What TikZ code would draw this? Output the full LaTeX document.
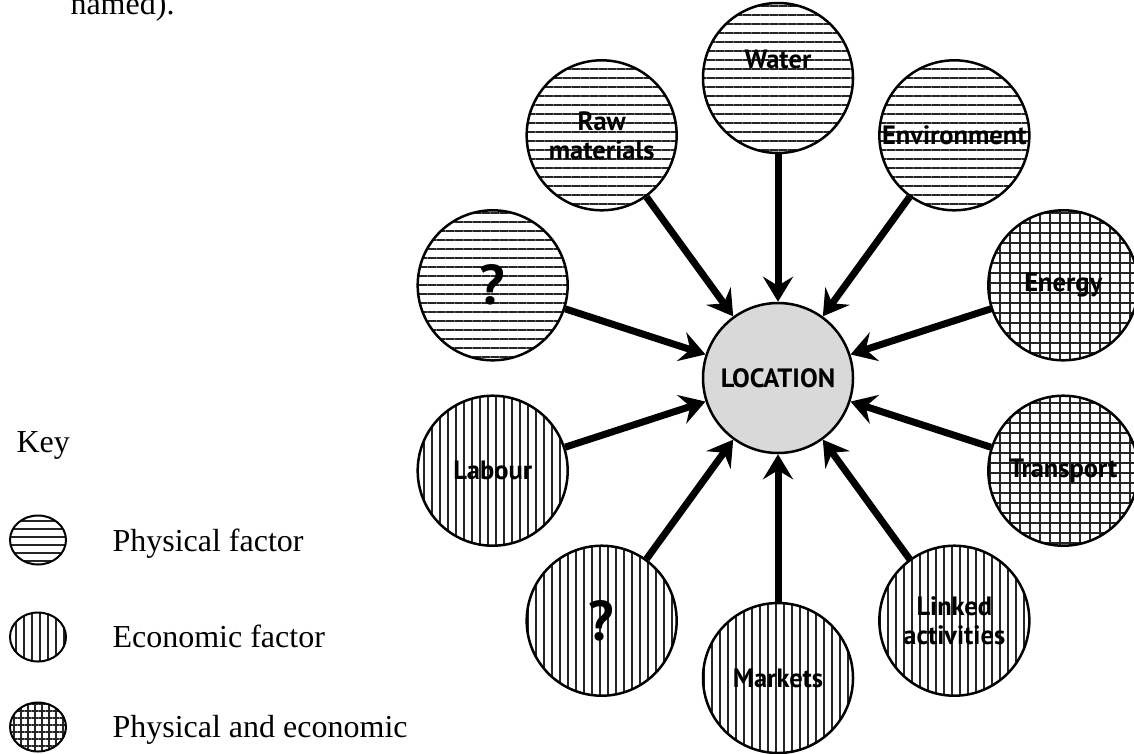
\documentclass[tikz,border=0pt]{standalone}
\usepackage{fontspec}
\setmainfont{Liberation Serif}
\newfontfamily\labelfont{PT Sans}
\usepackage{tikz}
\usetikzlibrary{positioning,arrows.meta,patterns.meta,shapes.geometric}

\begin{document}
\begin{tikzpicture}[x=1pt, y=1pt, node distance=300pt, auto,
        hlines/.style={pattern={Lines[angle=0, distance=9pt, line width=1.3pt]}, pattern color=black!85},
        vlines/.style={pattern={Lines[angle=90, distance=8pt, line width=1.3pt]}, pattern color=black!85},
        grid/.style={pattern={Hatch[angle=0, distance=10pt, line width=1.3pt]}, pattern color=black!85},
        fact/.style={circle, draw, line width=2.5pt, minimum size=150pt, inner sep=0pt, align=center,
            font=\labelfont\bfseries\fontsize{26.5}{29}\selectfont},
        phys/.style={fact, hlines},
        econ/.style={fact, vlines},
        both/.style={fact, grid},
        qmark/.style={font=\labelfont\bfseries\fontsize{56}{56}\selectfont},
        arr/.style={-{Stealth[length=25pt, width=30pt, inset=9pt]}, line width=7pt},
        keyicon/.style={ellipse, draw, line width=2pt, minimum width=56pt, minimum height=49pt, inner sep=0pt},
        keytext/.style={anchor=base west, font=\fontsize{32}{32}\selectfont}]
        \useasboundingbox (0,0) rectangle (1134,-753);
        \clip (0,0) rectangle (1134,-753);

        % the centre and its ring of factors
        \node (loc) [fact, fill=black!15] at (778,-378) {LOCATION};

        \node (water) [phys, above of=loc,
            label={[font=\labelfont\bfseries\fontsize{26.5}{29}\selectfont, yshift=19pt]center:Water}] {};
        \node (environment) [phys] at ([shift={(54:300pt)}]loc) {Environment};
        \node (energy) [both] at ([shift={(18:300pt)}]loc) {Energy};
        \node (transport) [both] at ([shift={(-18:300pt)}]loc) {Transport};
        \node (linked) [econ] at ([shift={(-54:300pt)}]loc) {Linked\\activities};
        \node (markets) [econ, below of=loc] {Markets};
        \node (econq) [econ, qmark] at ([shift={(-126:300pt)}]loc) {?};
        \node (labour) [econ] at ([shift={(-162:300pt)}]loc) {Labour};
        \node (physq) [phys, qmark] at ([shift={(162:300pt)}]loc) {?};
        \node (raw) [phys] at ([shift={(126:300pt)}]loc) {Raw\\materials};

        \draw[arr] (water) -- (loc);
        \draw[arr] (environment) -- (loc);
        \draw[arr] (energy) -- (loc);
        \draw[arr] (transport) -- (loc);
        \draw[arr] (linked) -- (loc);
        \draw[arr] (markets) -- (loc);
        \draw[arr] (econq) -- (loc);
        \draw[arr] (labour) -- (loc);
        \draw[arr] (physq) -- (loc);
        \draw[arr] (raw) -- (loc);

        % key
        \node (prev) [keytext] at (67,-14) {named).};
        \node (key) [keytext] at (13,-452) {Key};
        \node (k1) [keyicon, hlines, pattern={Lines[angle=0, distance=8pt, line width=1.2pt]}] at (38,-540) {};
        \node (k2) [keyicon, vlines] at (38,-637) {};
        \node (k3) [keyicon, grid, pattern={Hatch[angle=0, distance=7pt, line width=1.2pt]}] at (38,-727) {};
        \node (t1) [keytext] at (109,-551) {Physical factor};
        \node (t2) [keytext] at (109,-647) {Economic factor};
        \node (t3) [keytext] at (109,-737) {Physical and economic};

    \end{tikzpicture}
\end{document}
